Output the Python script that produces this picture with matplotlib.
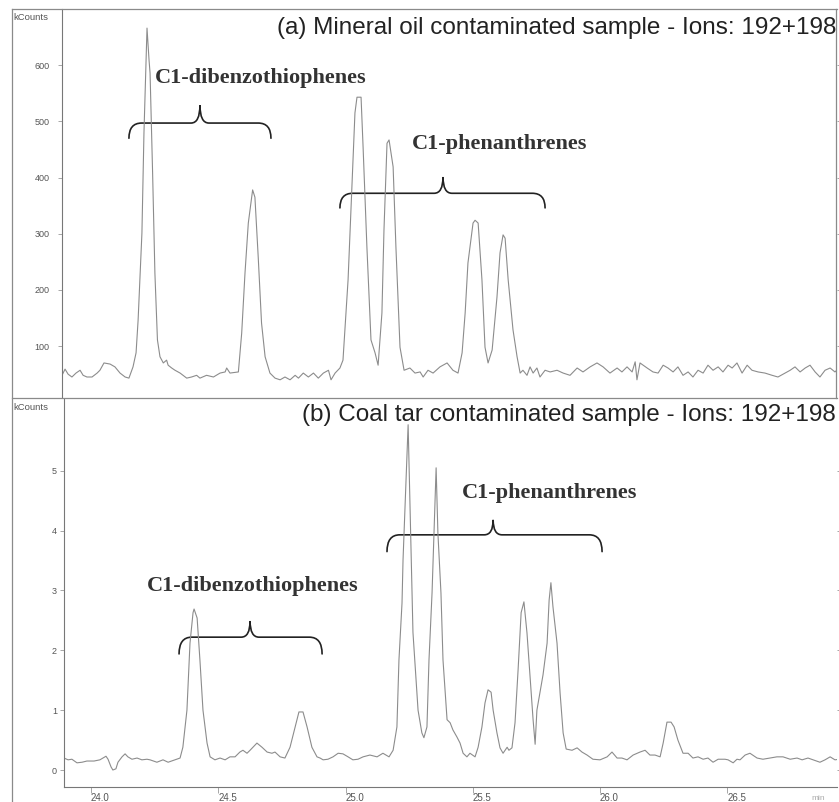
import matplotlib
matplotlib.use("Agg")
import matplotlib.pyplot as plt
from matplotlib.path import Path
from matplotlib.patches import PathPatch
from matplotlib.lines import Line2D

# ---- data (retention time in min, intensity in kCounts) ----
time_a = [23.886, 23.898, 23.910, 23.925, 23.941, 23.957, 23.969, 23.984, 24.004, 24.024,
          24.035, 24.051, 24.075, 24.094, 24.114, 24.134, 24.149, 24.165, 24.177, 24.185,
          24.200, 24.208, 24.220, 24.228, 24.232, 24.242, 24.251, 24.261, 24.271, 24.284,
          24.297, 24.303, 24.317, 24.330, 24.350, 24.376, 24.395, 24.415, 24.428, 24.454,
          24.481, 24.507, 24.527, 24.533, 24.546, 24.579, 24.592, 24.605, 24.618, 24.635,
          24.644, 24.657, 24.670, 24.684, 24.703, 24.723, 24.743, 24.762, 24.782, 24.802,
          24.815, 24.834, 24.854, 24.874, 24.893, 24.913, 24.933, 24.943, 24.959, 24.978,
          24.990, 25.010, 25.026, 25.037, 25.045, 25.061, 25.069, 25.084, 25.100, 25.116,
          25.128, 25.143, 25.151, 25.163, 25.171, 25.187, 25.198, 25.214, 25.230, 25.253,
          25.273, 25.293, 25.305, 25.324, 25.344, 25.371, 25.399, 25.422, 25.442, 25.458,
          25.470, 25.481, 25.501, 25.509, 25.521, 25.536, 25.548, 25.560, 25.576, 25.595,
          25.607, 25.619, 25.627, 25.639, 25.658, 25.674, 25.686, 25.697, 25.713, 25.725,
          25.737, 25.752, 25.764, 25.784, 25.804, 25.831, 25.855, 25.882, 25.910, 25.933,
          25.961, 25.988, 26.012, 26.039, 26.067, 26.086, 26.106, 26.126, 26.138, 26.145,
          26.157, 26.185, 26.208, 26.228, 26.248, 26.267, 26.287, 26.306, 26.326, 26.346,
          26.365, 26.385, 26.405, 26.424, 26.444, 26.464, 26.483, 26.503, 26.519, 26.538,
          26.558, 26.578, 26.597, 26.621, 26.648, 26.676, 26.699, 26.727, 26.747, 26.766,
          26.786, 26.806, 26.825, 26.845, 26.864, 26.884, 26.904, 26.923, 26.939]
counts_a = [48, 59, 50, 45, 52, 57, 48, 45, 45, 52,
            57, 70, 68, 63, 52, 45, 43, 63, 88, 146,
            301, 479, 666, 609, 586, 408, 230, 111, 81, 70,
            75, 66, 61, 57, 52, 43, 45, 48, 43, 48,
            45, 52, 54, 61, 52, 54, 123, 230, 319, 378,
            365, 258, 141, 81, 52, 43, 40, 45, 40, 48,
            43, 52, 45, 52, 43, 52, 57, 40, 52, 61,
            75, 218, 395, 515, 543, 543, 454, 276, 111, 88,
            66, 159, 306, 461, 467, 419, 276, 98, 57, 61,
            52, 54, 45, 57, 52, 63, 70, 57, 52, 88,
            159, 248, 319, 324, 319, 218, 98, 70, 93, 187,
            266, 298, 292, 218, 129, 81, 52, 57, 48, 63,
            52, 61, 45, 57, 54, 57, 52, 48, 61, 54,
            63, 70, 63, 52, 61, 54, 63, 54, 72, 40,
            70, 61, 54, 52, 66, 61, 54, 63, 48, 54,
            45, 57, 52, 66, 57, 63, 54, 66, 61, 70,
            52, 66, 57, 54, 52, 48, 45, 52, 57, 63,
            54, 61, 66, 54, 45, 57, 61, 54, 61]

time_b = [23.894, 23.910, 23.925, 23.945, 23.965, 23.984, 24.012, 24.035, 24.047, 24.059,
          24.067, 24.079, 24.086, 24.098, 24.106, 24.122, 24.134, 24.145, 24.161, 24.181,
          24.200, 24.220, 24.232, 24.259, 24.283, 24.303, 24.330, 24.350, 24.361, 24.377,
          24.389, 24.401, 24.405, 24.417, 24.428, 24.440, 24.456, 24.468, 24.487, 24.507,
          24.527, 24.546, 24.566, 24.585, 24.597, 24.613, 24.625, 24.652, 24.672, 24.692,
          24.711, 24.723, 24.743, 24.762, 24.782, 24.802, 24.817, 24.833, 24.849, 24.868,
          24.888, 24.900, 24.912, 24.931, 24.951, 24.971, 24.990, 25.010, 25.029, 25.049,
          25.069, 25.096, 25.124, 25.147, 25.171, 25.187, 25.202, 25.210, 25.222, 25.226,
          25.246, 25.253, 25.265, 25.285, 25.300, 25.308, 25.320, 25.328, 25.340, 25.356,
          25.363, 25.375, 25.383, 25.399, 25.411, 25.422, 25.438, 25.450, 25.462, 25.477,
          25.489, 25.509, 25.521, 25.536, 25.548, 25.560, 25.572, 25.580, 25.595, 25.607,
          25.619, 25.635, 25.642, 25.654, 25.666, 25.678, 25.690, 25.701, 25.713, 25.725,
          25.737, 25.745, 25.752, 25.764, 25.776, 25.792, 25.800, 25.807, 25.815, 25.831,
          25.843, 25.855, 25.867, 25.890, 25.910, 25.929, 25.949, 25.972, 26.000, 26.028,
          26.047, 26.067, 26.086, 26.106, 26.130, 26.157, 26.177, 26.196, 26.216, 26.236,
          26.248, 26.263, 26.279, 26.291, 26.306, 26.326, 26.346, 26.365, 26.385, 26.405,
          26.424, 26.444, 26.464, 26.491, 26.503, 26.523, 26.538, 26.550, 26.570, 26.589,
          26.617, 26.640, 26.668, 26.695, 26.719, 26.747, 26.774, 26.794, 26.817, 26.837,
          26.864, 26.884, 26.904, 26.923, 26.939]
counts_b = [0.20, 0.17, 0.18, 0.12, 0.13, 0.15, 0.15, 0.17, 0.20, 0.23,
            0.18, 0.05, 0.00, 0.02, 0.13, 0.22, 0.27, 0.22, 0.18, 0.20,
            0.17, 0.18, 0.17, 0.13, 0.17, 0.13, 0.17, 0.20, 0.38, 1.00,
            2.12, 2.63, 2.69, 2.54, 1.84, 1.00, 0.45, 0.22, 0.17, 0.20,
            0.17, 0.22, 0.22, 0.30, 0.33, 0.28, 0.33, 0.45, 0.38, 0.30,
            0.28, 0.30, 0.22, 0.20, 0.38, 0.72, 0.97, 0.97, 0.72, 0.38,
            0.22, 0.20, 0.17, 0.18, 0.22, 0.28, 0.27, 0.22, 0.17, 0.18,
            0.22, 0.25, 0.22, 0.28, 0.22, 0.33, 0.72, 1.84, 2.79, 3.51,
            5.77, 4.52, 2.30, 1.00, 0.62, 0.54, 0.72, 1.84, 2.96, 5.05,
            3.96, 2.96, 1.84, 0.84, 0.79, 0.67, 0.55, 0.45, 0.28, 0.22,
            0.28, 0.22, 0.38, 0.72, 1.12, 1.34, 1.30, 1.00, 0.62, 0.37,
            0.28, 0.38, 0.33, 0.37, 0.79, 1.67, 2.63, 2.81, 2.29, 1.56,
            0.84, 0.43, 1.00, 1.29, 1.59, 2.12, 2.84, 3.13, 2.73, 2.12,
            1.29, 0.62, 0.35, 0.33, 0.37, 0.30, 0.25, 0.18, 0.17, 0.22,
            0.30, 0.20, 0.20, 0.17, 0.25, 0.30, 0.33, 0.25, 0.25, 0.22,
            0.45, 0.80, 0.80, 0.72, 0.50, 0.28, 0.28, 0.20, 0.22, 0.18,
            0.20, 0.13, 0.18, 0.18, 0.17, 0.12, 0.18, 0.17, 0.25, 0.28,
            0.20, 0.18, 0.20, 0.22, 0.22, 0.18, 0.20, 0.17, 0.20, 0.17,
            0.13, 0.17, 0.22, 0.17, 0.18]

yticks_a = [100, 200, 300, 400, 500, 600]
yticks_b = [0, 1, 2, 3, 4, 5]
xticks = [24.0, 24.5, 25.0, 25.5, 26.0, 26.5]
xtick_labels = ["24.0", "24.5", "25.0", "25.5", "26.0", "26.5"]

title_a = "(a) Mineral oil contaminated sample - Ions: 192+198"
title_b = "(b) Coal tar contaminated sample - Ions: 192+198"

# group labels: (text, x_left, y_text, x0, x1, x_tip, y_end, y_bar, y_tip)
groups_a = [("C1-dibenzothiophenes", 24.251, 578, 24.149, 24.707, 24.428, 470, 497, 529),
            ("C1-phenanthrenes", 25.261, 460, 24.978, 25.784, 25.383, 346, 372, 401)]
groups_b = [("C1-phenanthrenes", 25.458, 4.63, 25.163, 26.008, 25.580, 3.65, 3.93, 4.18),
            ("C1-dibenzothiophenes", 24.220, 3.08, 24.346, 24.908, 24.625, 1.94, 2.22, 2.49)]

SANS = ["Liberation Sans", "DejaVu Sans"]
SERIF = ["Liberation Serif", "DejaVu Serif"]
TRACE = "#8c8c8c"
FRAME = "#8a8a8a"


def brace(ax, x0, x1, xm, y_end, y_bar, y_tip):
    r_end = 0.05
    r_mid = 0.035
    verts = [(x0, y_end), (x0, y_bar), (x0 + r_end, y_bar),
             (xm - r_mid, y_bar), (xm, y_bar), (xm, y_tip),
             (xm, y_bar), (xm + r_mid, y_bar),
             (x1 - r_end, y_bar), (x1, y_bar), (x1, y_end)]
    codes = [Path.MOVETO, Path.CURVE3, Path.CURVE3,
             Path.LINETO, Path.CURVE3, Path.CURVE3,
             Path.CURVE3, Path.CURVE3,
             Path.LINETO, Path.CURVE3, Path.CURVE3]
    ax.add_patch(PathPatch(Path(verts, codes), fill=False, lw=1.2,
                           edgecolor="#222222", capstyle="round"))


def style_axis(ax, ylabel_pad):
    for s in ["top", "right", "bottom"]:
        ax.spines[s].set_visible(False)
    ax.spines["left"].set_color("#777777")
    ax.spines["left"].set_linewidth(0.8)
    ax.tick_params(axis="y", direction="out", length=3, width=0.6, color="#999999",
                   labelsize=6.5, labelcolor="#555555", pad=ylabel_pad,
                   right=True)
    for lbl in ax.get_yticklabels():
        lbl.set_family(SANS)


W, H = 839, 802
fig = plt.figure(figsize=(W / 100, H / 100), dpi=100)

ax_a = fig.add_axes([62 / W, 1 - 397 / H, (837 - 62) / W, (397 - 9) / H])
ax_b = fig.add_axes([64 / W, 1 - 787 / H, (837 - 64) / W, (787 - 399) / H])

# panel (a)
ax_a.plot(time_a, counts_a, color=TRACE, lw=0.8)
ax_a.set_xlim(23.886, 26.931)
ax_a.set_ylim(9.4, 700)
ax_a.set_yticks(yticks_a)
ax_a.set_yticklabels([str(v) for v in yticks_a])
ax_a.set_xticks([])
style_axis(ax_a, 6)

# panel (b)
ax_b.plot(time_b, counts_b, color=TRACE, lw=0.8)
ax_b.set_xlim(23.894, 26.931)
ax_b.set_ylim(-0.284, 6.20)
ax_b.set_yticks(yticks_b)
ax_b.set_yticklabels([str(v) for v in yticks_b])
style_axis(ax_b, 2)
ax_b.spines["bottom"].set_visible(True)
ax_b.spines["bottom"].set_color("#777777")
ax_b.spines["bottom"].set_linewidth(0.8)
ax_b.set_xticks(xticks)
ax_b.set_xticklabels(xtick_labels)
ax_b.tick_params(axis="x", direction="out", length=4, width=0.6, color="#999999",
                 labelsize=7, labelcolor="#555555", pad=0.5)
for lbl in ax_b.get_xticklabels():
    lbl.set_ha("left")
    lbl.set_family(SANS)

for ax, title, ty, groups in [(ax_a, title_a, 28, groups_a), (ax_b, title_b, 415, groups_b)]:
    fig.text(836 / W, 1 - ty / H, title, ha="right", va="center",
             fontsize=17.5, family=SANS, color="#222222")
    for name, tx, tyv, x0, x1, xm, ye, yb, yt in groups:
        ax.text(tx, tyv, name, ha="left", va="center", fontsize=16,
                fontweight="bold", family=SERIF, color="#333333")
        brace(ax, x0, x1, xm, ye, yb, yt)

# units labels
fig.text(13 / W, 1 - 18 / H, "kCounts", ha="left", va="center", fontsize=6.8,
         family=SANS, color="#555555")
fig.text(13 / W, 1 - 407 / H, "kCounts", ha="left", va="center", fontsize=6.8,
         family=SANS, color="#555555")
fig.text(818 / W, 1 - 799 / H, "min", ha="center", va="center", fontsize=6,
         family=SANS, color="#aaaaaa")

# outer frame and panel separator
frame = [((12, 12), (9, H)), ((12, 837), (9, 9)), ((12, 837), (398, 398)),
         ((836, 836), (9, 398))]
for xs, ys in frame:
    fig.add_artist(Line2D([x / W for x in xs], [1 - y / H for y in ys],
                          color=FRAME, lw=0.9))

fig.savefig("out.png", dpi=100)
